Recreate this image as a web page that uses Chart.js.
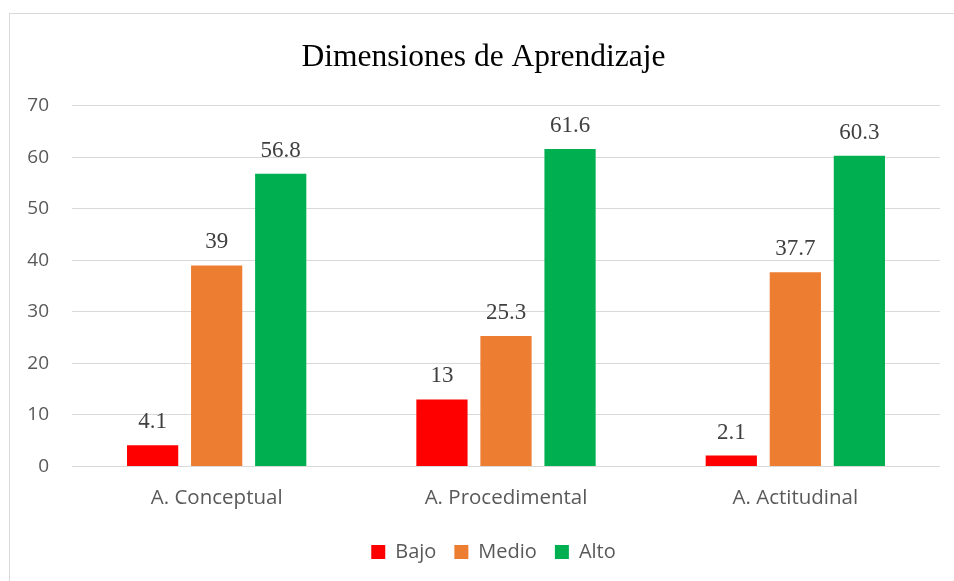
<!DOCTYPE html>
<html>
<head>
<meta charset="utf-8">
<script src="https://cdn.jsdelivr.net/npm/chart.js@4.4.0/dist/chart.umd.min.js"></script>
<style>
  html, body { margin: 0; padding: 0; background: #fff; }
  #frame { position: absolute; left: 9px; top: 13px; width: 960px; height: 600px; border: 1px solid #d9d9d9; box-sizing: border-box; }
  #wrap { position: absolute; left: 0; top: 0; width: 954px; height: 581px; }
</style>
</head>
<body>
<div id="frame"></div>
<div id="wrap"><canvas id="c" width="954" height="581"></canvas></div>
<script>
const categories = ["A. Conceptual", "A. Procedimental", "A. Actitudinal"];
const bajo = [4.1, 13, 2.1];
const medio = [39, 25.3, 37.7];
const alto = [56.8, 61.6, 60.3];
const yTicks = [0, 10, 20, 30, 40, 50, 60, 70];

const SANS = '"Open Sans", "Noto Sans", sans-serif';
const SERIF = '"Liberation Serif", "Times New Roman", serif';

const labelPlugin = {
  id: 'valueLabels',
  beforeLayout(chart) {
    const lg = chart.legend;
    if (lg && !lg._trimmed) {
      const f = lg.fit;
      lg.fit = function () { f.call(this); this.height -= 14; };
      const d = lg.draw;
      lg.draw = function () {
        const t = this.top, b = this.bottom, l = this.left, r = this.right;
        this.top = t - 5;
        this.bottom = b + 10;
        this.left = l + 20;
        this.right = r;
        d.call(this);
        this.top = t; this.bottom = b; this.left = l; this.right = r;
      };
      lg._trimmed = true;
    }
  },
  afterDatasetsDraw(chart) {
    const ctx = chart.ctx;
    ctx.save();
    ctx.font = '23px ' + SERIF;
    ctx.fillStyle = '#404040';
    ctx.textAlign = 'center';
    ctx.textBaseline = 'alphabetic';
    chart.data.datasets.forEach((ds, i) => {
      const meta = chart.getDatasetMeta(i);
      meta.data.forEach((bar, j) => {
        ctx.fillText(String(ds.data[j]), bar.x, bar.y - 17);
      });
    });
    ctx.restore();
  }
};

new Chart(document.getElementById('c'), {
  type: 'bar',
  data: {
    labels: categories,
    datasets: [
      { label: 'Bajo', data: bajo, backgroundColor: '#FF0000' },
      { label: 'Medio', data: medio, backgroundColor: '#ED7D31' },
      { label: 'Alto', data: alto, backgroundColor: '#00B050' }
    ]
  },
  options: {
    responsive: false,
    animation: false,
    devicePixelRatio: 1,
    categoryPercentage: 0.664,
    barPercentage: 0.8,
    layout: { padding: { left: 27, right: 14, top: 20, bottom: 18 } },
    plugins: {
      title: {
        display: true,
        text: 'Dimensiones de Aprendizaje',
        color: '#000',
        font: { family: SERIF, size: 31.5, weight: 'normal' },
        padding: { top: 19, bottom: 29 }
      },
      legend: {
        position: 'bottom',
        labels: {
          color: '#595959',
          font: { family: SANS, size: 20 },
          boxWidth: 14, boxHeight: 14, padding: 18
        }
      },
      tooltip: { enabled: false }
    },
    scales: {
      x: {
        grid: { display: false, drawTicks: false },
        border: { display: false },
        ticks: { color: '#595959', font: { family: SANS, size: 20.5 }, padding: 19 }
      },
      y: {
        min: 0, max: 70,
        afterBuildTicks(axis) { axis.ticks = yTicks.map(v => ({ value: v })); },
        afterFit(axis) { axis.width = 45; },
        grid: { color: '#d9d9d9', lineWidth: 1, drawTicks: false },
        border: { display: false },
        ticks: { color: '#595959', font: { family: SANS, size: 19 }, padding: 23 }
      }
    }
  },
  plugins: [labelPlugin]
});
</script>
</body>
</html>
